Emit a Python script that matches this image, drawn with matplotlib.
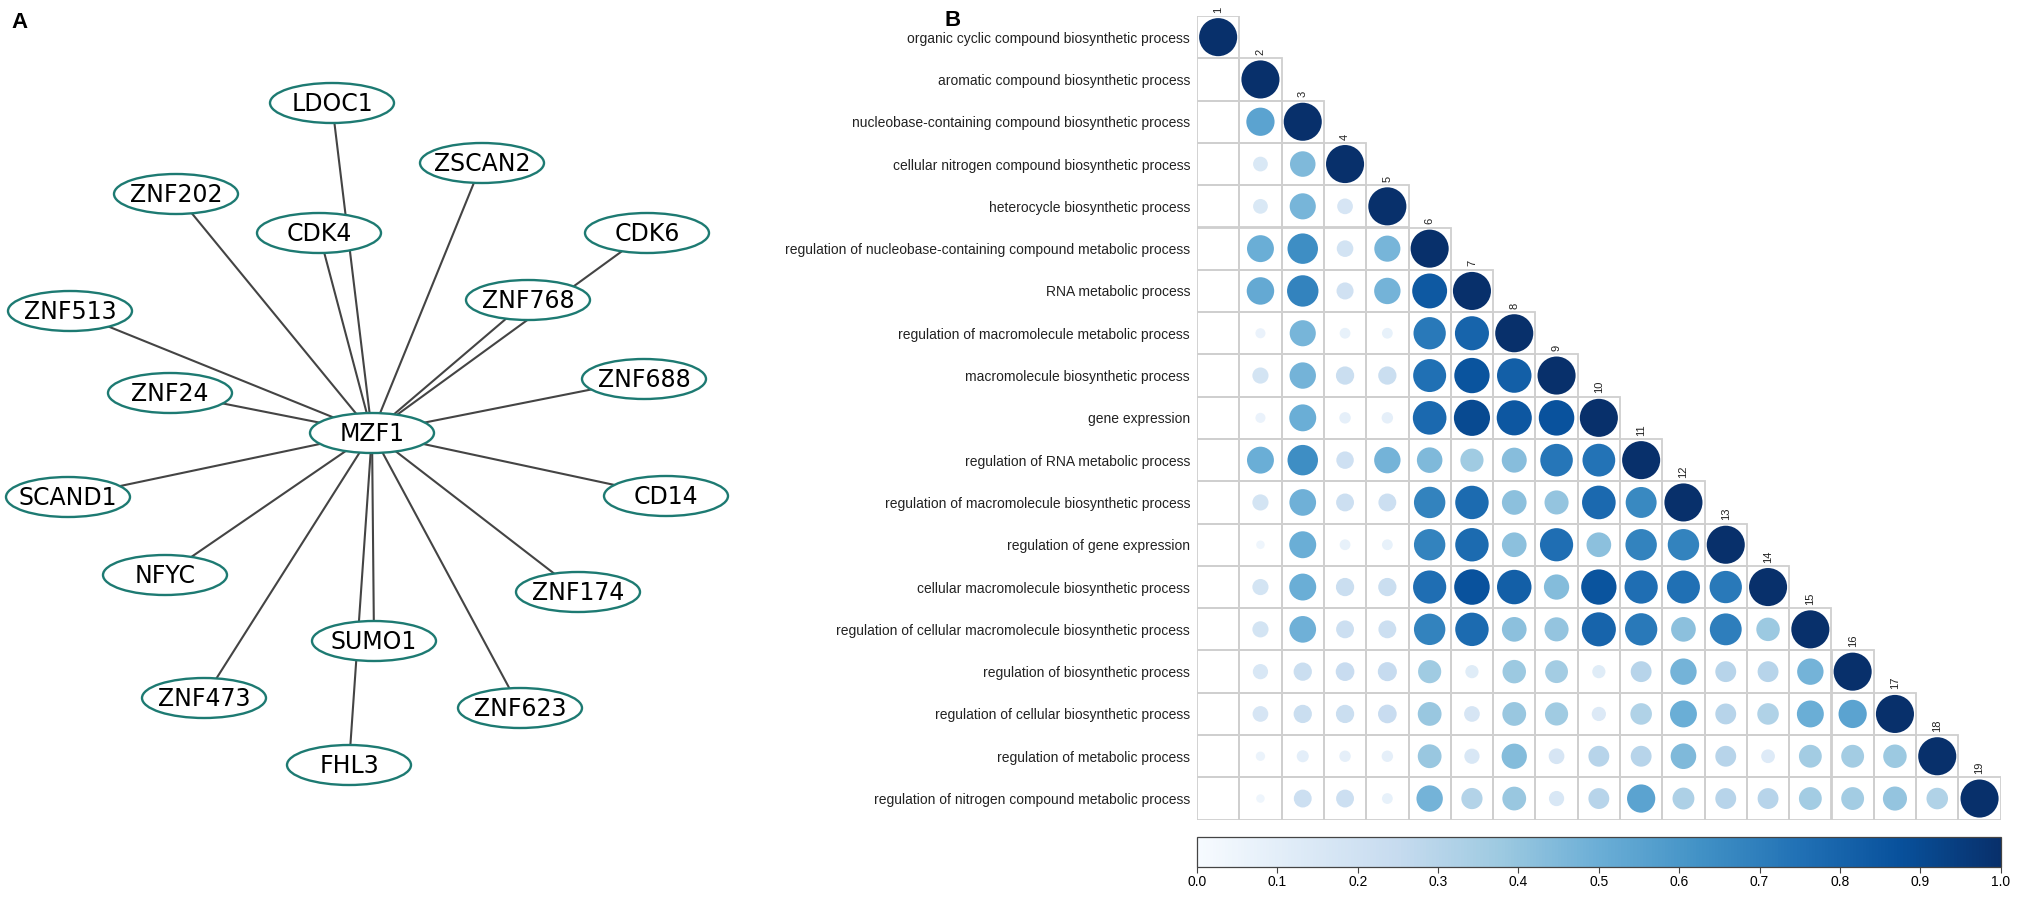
import numpy as np
import matplotlib
matplotlib.use("Agg")
import matplotlib.pyplot as plt
from matplotlib.patches import Ellipse, Circle, Rectangle
from matplotlib.cm import ScalarMappable
from matplotlib.colors import Normalize

# ---- panel A: interaction network (hub MZF1) ----
hub = "MZF1"
hub_xy = (372, 433)
partners = ["LDOC1", "ZSCAN2", "ZNF202", "CDK4", "CDK6", "ZNF768", "ZNF513",
            "ZNF688", "ZNF24", "SCAND1", "CD14", "NFYC", "ZNF174", "SUMO1",
            "ZNF473", "ZNF623", "FHL3"]
# layout coordinates of the partner nodes (pixel space of the original layout)
partner_x = [332, 482, 176, 319, 647, 528, 70, 644, 170, 68, 666, 165, 578, 374, 204, 520, 349]
partner_y = [103, 163, 194, 233, 233, 300, 311, 379, 393, 497, 496, 575, 592, 641, 698, 708, 765]

# ---- panel B: GO term similarity (lower triangle) ----
terms = [
    "organic cyclic compound biosynthetic process",
    "aromatic compound biosynthetic process",
    "nucleobase-containing compound biosynthetic process",
    "cellular nitrogen compound biosynthetic process",
    "heterocycle biosynthetic process",
    "regulation of nucleobase-containing compound metabolic process",
    "RNA metabolic process",
    "regulation of macromolecule metabolic process",
    "macromolecule biosynthetic process",
    "gene expression",
    "regulation of RNA metabolic process",
    "regulation of macromolecule biosynthetic process",
    "regulation of gene expression",
    "cellular macromolecule biosynthetic process",
    "regulation of cellular macromolecule biosynthetic process",
    "regulation of biosynthetic process",
    "regulation of cellular biosynthetic process",
    "regulation of metabolic process",
    "regulation of nitrogen compound metabolic process",
]
sim = [
    [1],
    [0, 1],
    [0, 0.55, 1],
    [0, 0.15, 0.45, 1],
    [0, 0.15, 0.47, 0.17, 1],
    [0, 0.50, 0.64, 0.19, 0.47, 1],
    [0, 0.52, 0.68, 0.20, 0.48, 0.84, 1],
    [0, 0.07, 0.47, 0.08, 0.08, 0.72, 0.80, 1],
    [0, 0.18, 0.48, 0.23, 0.23, 0.75, 0.86, 0.82, 1],
    [0, 0.07, 0.50, 0.09, 0.09, 0.78, 0.90, 0.85, 0.87, 1],
    [0, 0.50, 0.64, 0.21, 0.48, 0.45, 0.37, 0.43, 0.73, 0.74, 1],
    [0, 0.18, 0.49, 0.22, 0.22, 0.68, 0.77, 0.42, 0.40, 0.78, 0.66, 1],
    [0, 0.05, 0.50, 0.08, 0.08, 0.68, 0.77, 0.42, 0.76, 0.42, 0.68, 0.68, 1],
    [0, 0.18, 0.50, 0.23, 0.23, 0.76, 0.87, 0.82, 0.44, 0.86, 0.76, 0.75, 0.72, 1],
    [0, 0.18, 0.49, 0.22, 0.22, 0.68, 0.77, 0.42, 0.40, 0.80, 0.72, 0.42, 0.70, 0.38, 1],
    [0, 0.16, 0.23, 0.24, 0.25, 0.37, 0.12, 0.38, 0.36, 0.12, 0.30, 0.48, 0.30, 0.30, 0.48, 1],
    [0, 0.17, 0.23, 0.23, 0.24, 0.39, 0.17, 0.39, 0.37, 0.14, 0.32, 0.50, 0.30, 0.32, 0.50, 0.55, 1],
    [0, 0.06, 0.10, 0.09, 0.09, 0.39, 0.16, 0.44, 0.17, 0.30, 0.30, 0.45, 0.30, 0.13, 0.36, 0.36, 0.38, 1],
    [0, 0.05, 0.22, 0.22, 0.08, 0.48, 0.31, 0.39, 0.16, 0.30, 0.55, 0.33, 0.30, 0.30, 0.36, 0.36, 0.40, 0.32, 1],
]
cbar_ticks = [0.0, 0.1, 0.2, 0.3, 0.4, 0.5, 0.6, 0.7, 0.8, 0.9, 1.0]

W, H = 2020, 897
fig = plt.figure(figsize=(W / 100, H / 100), dpi=100)

# panel A
axA = fig.add_axes([0, 0, 0.5, 1])
axA.set_xlim(0, W / 2)
axA.set_ylim(H, 0)
axA.axis("off")
for name, x, y in zip(partners, partner_x, partner_y):
    axA.plot([hub_xy[0], x], [hub_xy[1], y], color="#444444", lw=1.5, zorder=1)
for name, x, y in zip([hub] + partners, [hub_xy[0]] + partner_x, [hub_xy[1]] + partner_y):
    axA.add_patch(Ellipse((x, y), 124, 40, facecolor="white", edgecolor="#1d7a72",
                          lw=1.7, zorder=2))
    axA.text(x, y + 1, name, ha="center", va="center", fontsize=17,
             family="DejaVu Sans", color="black", zorder=3)
fig.text(19 / W, 1 - 23 / H, "A", fontsize=16, fontweight="bold",
         family="Liberation Sans", ha="center", va="center")
fig.text(953 / W, 1 - 21 / H, "B", fontsize=16, fontweight="bold",
         family="Liberation Sans", ha="center", va="center")

# panel B
n = len(terms)
cmap = plt.get_cmap("Blues")
norm = Normalize(0, 1)
left, top, cell = 1197, 16, 42.3
axB = fig.add_axes([left / W, 1 - (top + n * cell) / H, n * cell / W, n * cell / H])
axB.set_xlim(0, n)
axB.set_ylim(n, 0)
axB.set_aspect("equal")
for s in axB.spines.values():
    s.set_visible(False)
axB.set_xticks([])
axB.set_yticks(np.arange(n) + 0.5)
axB.set_yticklabels(terms, fontsize=10, family="Liberation Sans", color="#222222")
axB.tick_params(axis="y", length=0, pad=5)
for i, row in enumerate(sim):
    for j, v in enumerate(row):
        axB.add_patch(Rectangle((j, i), 1, 1, fill=False, edgecolor="#cfcfcf", lw=1.3, zorder=1))
        if v > 0:
            axB.add_patch(Circle((j + 0.5, i + 0.5), 0.45 * np.sqrt(v),
                                 facecolor=cmap(norm(v)), edgecolor="none", zorder=2))
    axB.text(i + 0.5, i - 0.08, str(i + 1), rotation=90, ha="center", va="bottom",
             fontsize=8, family="Liberation Sans", color="#222222", clip_on=False)

# colorbar
cax = fig.add_axes([left / W, 1 - 867 / H, n * cell / W, 30 / H])
cb = fig.colorbar(ScalarMappable(norm=norm, cmap=cmap), cax=cax, orientation="horizontal",
                  ticks=cbar_ticks)
cb.outline.set_edgecolor("#444444")
cb.outline.set_linewidth(0.9)
cax.tick_params(labelsize=10, length=4, width=0.8, color="#444444", pad=2)
cax.set_xticklabels(["%.1f" % t for t in cbar_ticks], family="Liberation Sans")

fig.savefig("out.png", dpi=100)
